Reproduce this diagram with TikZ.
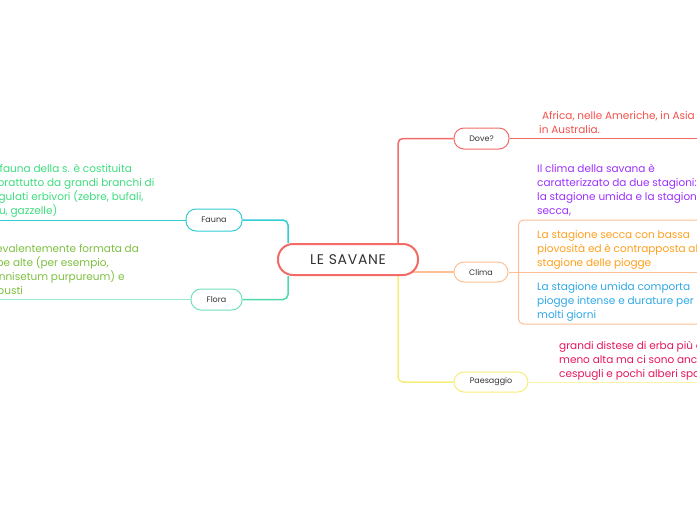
\documentclass[tikz,border=0pt]{standalone}
\usepackage{fontspec}
\setmainfont{Poppins}
\usetikzlibrary{positioning, backgrounds}

\definecolor{redbr}{RGB}{242,107,102}
\definecolor{redtx}{RGB}{245,80,74}
\definecolor{orbr}{RGB}{255,190,150}
\definecolor{ortx}{RGB}{255,159,28}
\definecolor{bltx}{RGB}{46,168,230}
\definecolor{putx}{RGB}{155,48,255}
\definecolor{yebr}{RGB}{247,238,122}
\definecolor{crtx}{RGB}{230,23,92}
\definecolor{cybr}{RGB}{51,204,211}
\definecolor{grtx}{RGB}{61,220,126}
\definecolor{mibr}{RGB}{80,217,168}
\definecolor{oltx}{RGB}{125,191,63}
\definecolor{labtx}{RGB}{51,51,51}

\begin{document}
\begin{tikzpicture}[x=1pt, y=-1pt,
    every node/.style={font=\fontsize{10.5}{14}\selectfont},
    root/.style={draw=redbr, line width=2pt, rounded corners=15pt, fill=white, minimum width=140pt, minimum height=31pt, inner sep=0pt, font=\fontsize{14}{16}\selectfont, text=labtx},
    topic/.style={draw, line width=1pt, rounded corners=10pt, fill=white, minimum height=21pt, inner sep=0pt, font=\fontsize{8}{10}\selectfont, text=labtx},
    note/.style={align=left, anchor=north west, inner sep=0pt},
    branch/.style={line width=1.5pt, rounded corners=5pt},
    thinline/.style={line width=1pt}
]
    % Page and clip
    \useasboundingbox (0,0) rectangle (697,520);
    \clip (0,0) rectangle (697,520);
    \coordinate (ledge) at (-10,0);
    \coordinate (redge) at (710,0);

    % Central topic
    \node (savane) [root] at (348,259.5) {L\kern0.7pt E\ \kern1pt S\kern0.7pt A\kern0.7pt V\kern0.7pt A\kern0.7pt N\kern0.7pt E};

    % Right topics
    \node (dove)      [topic, draw=redbr, minimum width=55pt] at (481.5,138.5) {Dove?};
    \node (clima)     [topic, draw=orbr, minimum width=54pt, minimum height=20pt] at (481,272) {Clima};
    \node (paesaggio) [topic, draw=yebr, minimum width=74pt, minimum height=20pt] at (491,382) {Paesaggio};

    % Left topics
    \node (fauna) [topic, draw=cybr, minimum width=56pt, minimum height=22pt] at (214,220) {Fauna};
    \node (flora) [topic, draw=mibr!80, minimum width=51pt] at (216.5,299.5) {Flora};

    % Box of the Clima notes
    \node (climabox) [draw=orbr, thinline, rounded corners=5pt, anchor=west, minimum width=200pt, minimum height=104pt] at (518,272) {};

    % Notes
    \node (africa) [note, text=redtx] at (539,111) {\ Africa, nelle Americhe, in Asia e\\in Australia.};
    \node (climanote) [note, text=putx] at (537,164) {Il clima della savana è\\caratterizzato da due stagioni:\\la stagione umida e la stagione\\secca,};
    \node (secca) [note, text=ortx] at (537,230.5) {La stagione secca con bassa\\piovosità ed è contrapposta alla\\stagione delle piogge};
    \node (umida) [note, text=bltx] at (537,282.5) {La stagione umida comporta\\piogge intense e durature per\\molti giorni};
    \node (paesnote) [note, text=crtx] at (559,341.5) {grandi distese di erba più o\\meno alta ma ci sono anche\\cespugli e pochi alberi sparsi};
    \node (faunanote) [note, text=grtx] at (-15,164.5) {La fauna della s. è costituita\\soprattutto da grandi branchi di\\ungulati erbivori (zebre, bufali,\\gnu, gazzelle)};
    \node (floranote) [note, text=oltx] at (-14,244.5) {Prevalentemente formata da\\erbe alte (per esempio,\\Pennisetum purpureum) e\\arbusti};

    % Connections
    \begin{scope}[on background layer]
        \draw [branch, redbr] ([xshift=-21pt]savane.north east) |- (dove.west);
        \draw [branch, orbr] ([xshift=-10pt]savane.east |- clima.west) -- (clima.west);
        \draw [branch, yebr] ([xshift=-21pt]savane.south east) |- (paesaggio.west);
        \draw [branch, cybr] ([xshift=11pt]savane.north west) |- (fauna.east);
        \draw [branch, mibr] ([xshift=11pt]savane.south west) |- (flora.east);

        \draw [thinline, redbr] (dove.east) -- (dove.east -| redge);
        \draw [thinline, orbr] (clima.east) -- (climabox.west);
        \draw [thinline, orbr] (climabox.west) -- (climabox.east);
        \draw [thinline, yebr!70] (paesaggio.east) -- (paesaggio.east -| redge);
        \draw [thinline, cybr] (fauna.west) -- (fauna.west -| ledge);
        \draw [thinline, mibr!60] (flora.west) -- (flora.west -| ledge);
    \end{scope}
\end{tikzpicture}
\end{document}
